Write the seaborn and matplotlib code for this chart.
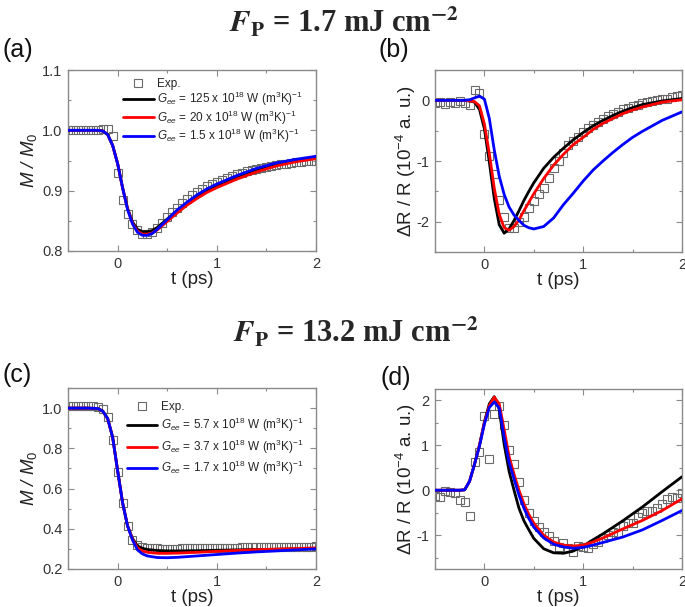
import numpy as np
import pandas as pd
import matplotlib
matplotlib.use("Agg")
import matplotlib.pyplot as plt
import seaborn as sns
from matplotlib.ticker import MultipleLocator, FormatStrFormatter

# ---------------- data ----------------
t_exp = [-0.5, -0.45, -0.4, -0.35, -0.3, -0.25, -0.2, -0.15, -0.1, -0.05,
         0.0, 0.05, 0.1, 0.15, 0.2, 0.25, 0.3, 0.35, 0.4, 0.45,
         0.5, 0.55, 0.6, 0.65, 0.7, 0.75, 0.8, 0.85, 0.9, 0.95,
         1.0, 1.05, 1.1, 1.15, 1.2, 1.25, 1.3, 1.35, 1.4, 1.45,
         1.5, 1.55, 1.6, 1.65, 1.7, 1.75, 1.8, 1.85, 1.9, 1.95, 2.0]

# (a) M/M0, F = 1.7 mJ cm-2
a_exp = [1.0, 1.0, 1.0, 1.0, 1.0, 1.0, 1.0, 1.002, 1.003, 0.99,
         0.93, 0.885, 0.862, 0.845, 0.835, 0.829, 0.828, 0.832, 0.838, 0.847,
         0.857, 0.864, 0.872, 0.879, 0.886, 0.892, 0.898, 0.903, 0.907, 0.911,
         0.915, 0.918, 0.921, 0.924, 0.927, 0.929, 0.932, 0.934, 0.936, 0.938,
         0.940, 0.941, 0.943, 0.944, 0.945, 0.946, 0.947, 0.948, 0.949, 0.949, 0.950]
t_fit_a = [-0.5, -0.4, -0.3, -0.2, -0.15, -0.1, -0.05, 0.0, 0.05, 0.1, 0.15, 0.2, 0.25,
           0.3, 0.35, 0.4, 0.5, 0.6, 0.7, 0.8, 0.9, 1.0, 1.2, 1.4, 1.6, 1.8, 2.0]
a_black = [1.0, 1.0, 1.0, 1.0, 0.999, 0.993, 0.975, 0.945, 0.905, 0.871, 0.848, 0.836, 0.832,
           0.832, 0.834, 0.839, 0.853, 0.867, 0.879, 0.891, 0.901, 0.909, 0.923, 0.935, 0.944, 0.950, 0.955]
a_red = [1.0, 1.0, 1.0, 1.0, 0.999, 0.993, 0.975, 0.945, 0.905, 0.870, 0.846, 0.833, 0.828,
         0.828, 0.830, 0.835, 0.849, 0.863, 0.876, 0.887, 0.897, 0.905, 0.919, 0.931, 0.941, 0.948, 0.953]
a_blue = [1.0, 1.0, 1.0, 1.0, 0.999, 0.993, 0.975, 0.945, 0.905, 0.869, 0.845, 0.831, 0.826,
          0.826, 0.829, 0.836, 0.852, 0.868, 0.881, 0.893, 0.903, 0.911, 0.925, 0.937, 0.946, 0.952, 0.957]
a_labels = [r"$G_{ee}$ = 125 x 10$^{18}$ W (m$^{3}$K)$^{-1}$",
            r"$G_{ee}$ = 20 x 10$^{18}$ W (m$^{3}$K)$^{-1}$",
            r"$G_{ee}$ = 1.5 x 10$^{18}$ W (m$^{3}$K)$^{-1}$"]

# (b) dR/R, F = 1.7 mJ cm-2
b_exp = [-0.05, -0.03, -0.06, -0.02, -0.04, -0.01, -0.05, -0.08, 0.17, 0.12,
         -0.55, -0.92, -1.22, -1.65, -1.93, -2.10, -2.10, -2.0, -1.92, -1.78,
         -1.66, -1.55, -1.45, -1.28, -1.12, -1.0, -0.86, -0.74, -0.67, -0.60,
         -0.53, -0.46, -0.41, -0.35, -0.30, -0.26, -0.23, -0.19, -0.15, -0.12,
         -0.09, -0.07, -0.05, -0.03, -0.01, 0.01, 0.02, 0.03, 0.05, 0.07, 0.09]
t_fit_b = [-0.5, -0.4, -0.3, -0.2, -0.15, -0.1, -0.05, 0.0, 0.05, 0.1, 0.15, 0.2, 0.25, 0.3,
           0.35, 0.4, 0.45, 0.5, 0.6, 0.7, 0.8, 0.9, 1.0, 1.1, 1.2, 1.3, 1.4, 1.5, 1.6, 1.7,
           1.8, 1.9, 2.0]
b_black = [0, 0, 0, 0, -0.01, -0.03, -0.15, -0.47, -1.02, -1.62, -2.05, -2.19, -2.12, -1.98,
           -1.82, -1.65, -1.50, -1.36, -1.12, -0.94, -0.79, -0.65, -0.53, -0.42, -0.33, -0.25,
           -0.18, -0.12, -0.07, -0.04, -0.01, 0.01, 0.03]
b_red = [0, 0, 0, 0, -0.01, -0.02, -0.09, -0.39, -0.88, -1.45, -1.88, -2.10, -2.14, -2.08,
         -1.97, -1.82, -1.68, -1.54, -1.29, -1.07, -0.89, -0.73, -0.61, -0.48, -0.38, -0.30,
         -0.22, -0.16, -0.11, -0.07, -0.03, -0.01, 0.01]
b_blue = [0, 0, 0, 0, 0.01, 0.04, 0.07, 0.02, -0.30, -0.82, -1.25, -1.55, -1.76, -1.89,
          -1.98, -2.06, -2.10, -2.12, -2.08, -1.94, -1.72, -1.53, -1.33, -1.15, -1.00, -0.86,
          -0.73, -0.61, -0.51, -0.42, -0.33, -0.26, -0.19]

# (c) M/M0, F = 13.2 mJ cm-2
c_exp = [1.01, 1.01, 1.01, 1.01, 1.01, 1.01, 1.008, 0.995, 0.955, 0.84,
         0.68, 0.53, 0.415, 0.345, 0.318, 0.307, 0.303, 0.302, 0.302, 0.301,
         0.301, 0.301, 0.301, 0.302, 0.302, 0.302, 0.303, 0.303, 0.304, 0.304,
         0.305, 0.305, 0.306, 0.306, 0.306, 0.307, 0.307, 0.307, 0.308, 0.308,
         0.308, 0.309, 0.309, 0.309, 0.310, 0.310, 0.310, 0.311, 0.311, 0.311, 0.312]
t_fit_c = [-0.5, -0.3, -0.2, -0.15, -0.1, -0.05, 0.0, 0.05, 0.1, 0.15, 0.2, 0.25, 0.3,
           0.4, 0.5, 0.6, 0.8, 1.0, 1.2, 1.4, 1.6, 1.8, 2.0]
c_black = [1.0, 1.0, 0.998, 0.985, 0.948, 0.855, 0.69, 0.53, 0.415, 0.352, 0.315, 0.303, 0.297,
           0.292, 0.290, 0.290, 0.291, 0.293, 0.295, 0.297, 0.298, 0.300, 0.301]
c_red = [1.0, 1.0, 0.998, 0.985, 0.948, 0.855, 0.69, 0.53, 0.415, 0.348, 0.305, 0.290, 0.283,
         0.278, 0.278, 0.279, 0.283, 0.288, 0.292, 0.296, 0.299, 0.302, 0.305]
c_blue = [1.0, 1.0, 0.998, 0.985, 0.948, 0.855, 0.69, 0.53, 0.415, 0.344, 0.295, 0.275, 0.265,
          0.257, 0.256, 0.258, 0.265, 0.272, 0.279, 0.285, 0.290, 0.295, 0.300]
c_labels = [r"$G_{ee}$ = 5.7 x 10$^{18}$ W (m$^{3}$K)$^{-1}$",
            r"$G_{ee}$ = 3.7 x 10$^{18}$ W (m$^{3}$K)$^{-1}$",
            r"$G_{ee}$ = 1.7 x 10$^{18}$ W (m$^{3}$K)$^{-1}$"]

# (d) dR/R, F = 13.2 mJ cm-2
d_exp = [-0.12, -0.15, -0.02, -0.03, -0.05, -0.21, -0.27, -0.58, 0.62, 0.84,
         1.64, 0.69, 1.70, 1.87, 1.46, 0.90, 0.58, 0.18, -0.22, -0.50,
         -0.68, -0.81, -0.92, -1.02, -1.13, -1.25, -1.18, -1.28, -1.37, -1.24,
         -1.27, -1.28, -1.20, -1.16, -1.05, -1.00, -0.92, -0.94, -0.80, -0.72,
         -0.72, -0.60, -0.50, -0.46, -0.46, -0.40, -0.31, -0.20, -0.16, -0.17, -0.05]
t_fit_d = [-0.5, -0.25, -0.2, -0.15, -0.1, -0.05, 0.0, 0.05, 0.1, 0.15, 0.2, 0.25, 0.3, 0.35,
           0.4, 0.45, 0.5, 0.6, 0.7, 0.8, 0.9, 1.0, 1.1, 1.2, 1.4, 1.6, 1.8, 2.0]
d_black = [0, 0, 0.01, 0.2, 0.58, 1.0, 1.52, 1.92, 2.08, 1.80, 1.02, 0.42, 0.0, -0.40,
           -0.68, -0.88, -1.07, -1.30, -1.39, -1.40, -1.35, -1.24, -1.10, -0.97, -0.68, -0.37, -0.03, 0.30]
d_red = [0, 0, 0.01, 0.2, 0.58, 1.0, 1.5, 1.88, 2.07, 1.92, 1.35, 0.75, 0.36, 0.0,
         -0.30, -0.54, -0.73, -1.00, -1.15, -1.22, -1.24, -1.22, -1.15, -1.06, -0.86, -0.67, -0.45, -0.19]
d_blue = [0, 0, 0.01, 0.2, 0.58, 0.98, 1.47, 1.84, 1.96, 1.83, 1.18, 0.62, 0.25, -0.11,
          -0.40, -0.63, -0.82, -1.06, -1.20, -1.26, -1.29, -1.27, -1.22, -1.16, -1.04, -0.88, -0.67, -0.45]

x_ticks = [0, 1, 2]
titles = [r"$\mathbfit{F}_{\mathbf{P}}$ = 1.7 mJ cm$^{\mathbf{-2}}$",
          r"$\mathbfit{F}_{\mathbf{P}}$ = 13.2 mJ cm$^{\mathbf{-2}}$"]
panel_tags = ["(a)", "(b)", "(c)", "(d)"]

# ---------------- style ----------------
sns.set_theme(style="ticks")
plt.rcParams.update({
    "font.family": ["Liberation Sans", "DejaVu Sans"],
    "axes.unicode_minus": False,
    "mathtext.fontset": "custom",
    "mathtext.rm": "Liberation Sans",
    "mathtext.it": "Liberation Sans:italic",
    "mathtext.bf": "Liberation Sans:bold",
    "axes.facecolor": "white",
    "figure.facecolor": "white",
})

SPINE = "#8a8a8a"
SQ = "#6a6a6a"
LW = 2.0

fig = plt.figure(figsize=(6.85, 6.07), dpi=100)
W, H = 685, 607


def make_ax(l, t, r, b):
    return fig.add_axes([l / W, 1 - b / H, (r - l) / W, (b - t) / H])


ax_a = make_ax(68, 70, 316, 251)
ax_b = make_ax(435, 70, 682, 252)
ax_c = make_ax(68, 388, 316, 569)
ax_d = make_ax(435, 389, 682, 569)


def draw(ax, exp, tf, black, red, blue, labels=None):
    sns.lineplot(x=t_exp, y=exp, ax=ax, marker="s", linestyle="", markersize=5.8,
                 markerfacecolor="none", markeredgecolor=SQ, markeredgewidth=0.8,
                 estimator=None, sort=False, label="Exp.", zorder=2)
    lbl = labels if labels else [None, None, None]
    for y, col, lb in zip([black, red, blue], ["black", "#ff0000", "#0000ff"], lbl):
        sns.lineplot(x=tf, y=y, ax=ax, color=col, linewidth=LW, estimator=None,
                     sort=False, label=lb, zorder=3)
    if ax.get_legend() is not None:
        ax.get_legend().remove()


def style(ax, ylim, ymaj, ymin, fmt, ylabel):
    ax.set_xlim(-0.5, 2)
    ax.set_ylim(*ylim)
    ax.set_xticks(x_ticks)
    ax.xaxis.set_minor_locator(MultipleLocator(0.5))
    ax.yaxis.set_major_locator(MultipleLocator(ymaj))
    ax.yaxis.set_minor_locator(MultipleLocator(ymin))
    ax.yaxis.set_major_formatter(FormatStrFormatter(fmt))
    ax.tick_params(which="both", direction="in", top=True, right=True,
                   color=SPINE, labelcolor="#333333", labelsize=10.5, width=0.8, pad=4)
    ax.tick_params(which="major", length=4)
    ax.tick_params(which="minor", length=2)
    for s in ax.spines.values():
        s.set_color(SPINE)
        s.set_linewidth(1.0)
    ax.set_xlabel("t (ps)", fontsize=13.5, color="#222222", labelpad=0)
    ax.set_ylabel(ylabel, fontsize=13.5, color="#222222")


draw(ax_a, a_exp, t_fit_a, a_black, a_red, a_blue, a_labels)
draw(ax_b, b_exp, t_fit_b, b_black, b_red, b_blue)
draw(ax_c, c_exp, t_fit_c, c_black, c_red, c_blue, c_labels)
draw(ax_d, d_exp, t_fit_d, d_black, d_red, d_blue)

ml = r"$M_{\mathit{0}}$"
style(ax_a, (0.8, 1.1), 0.1, 0.05, "%.1f", r"$M$ / " + ml)
style(ax_b, (-2.5, 0.5), 1, 0.5, "%d", r"ΔR / R (10$^{-4}$ a. u.)")
style(ax_c, (0.2, 1.1), 0.2, 0.1, "%.1f", r"$M$ / " + ml)
style(ax_d, (-1.75, 2.25), 1, 0.5, "%d", r"ΔR / R (10$^{-4}$ a. u.)")
for ax in (ax_a, ax_c):
    ax.yaxis.label.set_fontstyle("italic")
    ax.yaxis.labelpad = 2
for ax in (ax_b, ax_d):
    ax.yaxis.labelpad = -1

for ax, anchor, sp in ((ax_a, (0.222, 0.955), 0.0), (ax_c, (0.237, 0.93), 0.28)):
    h, l = ax.get_legend_handles_labels()
    ax.legend(h, l, loc="upper left", bbox_to_anchor=anchor, frameon=False,
              fontsize=8.5, handlelength=2.6, handletextpad=0.3, labelspacing=sp,
              borderpad=0, borderaxespad=0)

for txt, (x, y) in zip(titles, [(344, 23), (356, 333)]):
    fig.text(x / W, 1 - y / H, txt, ha="center", va="center", fontsize=22,
             family="Liberation Serif", weight="bold", math_fontfamily="stix")

for tag, (x, y) in zip(panel_tags, [(2, 50), (378, 50), (2, 375), (380, 378)]):
    fig.text(x / W, 1 - y / H, tag, ha="left", va="center", fontsize=18, color="#111111")

fig.savefig("out.png", dpi=100)
